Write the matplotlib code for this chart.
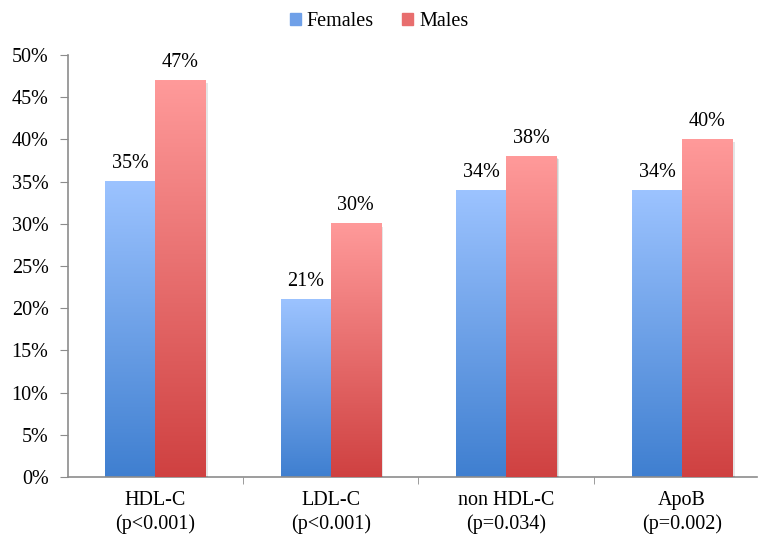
import numpy as np
import matplotlib
matplotlib.use("Agg")
import matplotlib.pyplot as plt
from matplotlib.colors import LinearSegmentedColormap
from matplotlib.patches import Rectangle
import matplotlib.patheffects as pe

plt.rcParams['font.family'] = ['Liberation Serif', 'DejaVu Serif']

categories = ["HDL-C\n(p<0.001)", "LDL-C\n(p<0.001)", "non HDL-C\n(p=0.034)", "ApoB\n(p=0.002)"]
females = [35, 21, 34, 34]
males = [47, 30, 38, 40]
series_names = ["Females", "Males"]
yticks = [0, 5, 10, 15, 20, 25, 30, 35, 40, 45, 50]

W, H = 758, 534
fig = plt.figure(figsize=(W / 100, H / 100), dpi=100)
ax = fig.add_axes([68 / W, (H - 477) / H, (757 - 68) / W, (477 - 55) / H])

blue_cmap = LinearSegmentedColormap.from_list("blue", ["#3f7fd0", "#9cc3ff"])
red_cmap = LinearSegmentedColormap.from_list("red", ["#cf4141", "#ff9a9a"])

x = np.arange(len(categories))
bw = 0.285
fs = 14.5

grad = np.linspace(0, 1, 256).reshape(-1, 1)

def gradient_bars(xpos, vals, cmap, mid, z):
    bars = ax.bar(xpos, vals, bw, color=mid, zorder=z,
                  path_effects=[pe.SimplePatchShadow(offset=(2, -2), alpha=0.1, shadow_rgbFace="black"),
                                pe.SimplePatchShadow(offset=(1, -1), alpha=0.1, shadow_rgbFace="black"),
                                pe.Normal()])
    for b in bars:
        x0, y0 = b.get_x(), b.get_y()
        w, h = b.get_width(), b.get_height()
        ax.imshow(grad, cmap=cmap, origin="lower", aspect="auto",
                  extent=(x0, x0 + w, y0, y0 + h), zorder=z + 0.1,
                  interpolation="bilinear")
    for b, v in zip(bars, vals):
        ax.text(b.get_x() + b.get_width() / 2, v + 1.0, f"{v}%",
                ha="center", va="bottom", fontsize=fs, zorder=10)
    return bars

gradient_bars(x - bw / 2, females, blue_cmap, "#6fa0e8", 2)
gradient_bars(x + bw / 2, males, red_cmap, "#e86e6e", 3)

ax.set_xlim(-0.495, 3.427)
ax.set_ylim(0, 50)
ax.set_yticks(yticks)
ax.set_yticklabels([f"{t}%" for t in yticks], fontsize=fs)

ax.set_xticks(x)
ax.set_xticklabels(categories, fontsize=fs, linespacing=1.3)
ax.set_xticks([0.5, 1.5, 2.5], minor=True)
ax.tick_params(axis="x", which="major", length=0, pad=10)
ax.tick_params(axis="x", which="minor", length=5, color="#8c8c8c", direction="out")
ax.tick_params(axis="y", length=6, color="#8c8c8c", direction="out", pad=8)

for s in ["top", "right"]:
    ax.spines[s].set_visible(False)
for s in ["left", "bottom"]:
    ax.spines[s].set_color("#8c8c8c")
    ax.spines[s].set_linewidth(1.2)

handles = [Rectangle((0, 0), 1, 1, color="#6fa0e8"), Rectangle((0, 0), 1, 1, color="#e86e6e")]
fig.legend(handles, series_names, loc="upper center", bbox_to_anchor=(0.5, 1.012), ncol=2,
           frameon=False, fontsize=fs, handlelength=0.55, handleheight=0.55,
           handletextpad=0.3, columnspacing=1.4)

fig.savefig("out.png", dpi=100)
